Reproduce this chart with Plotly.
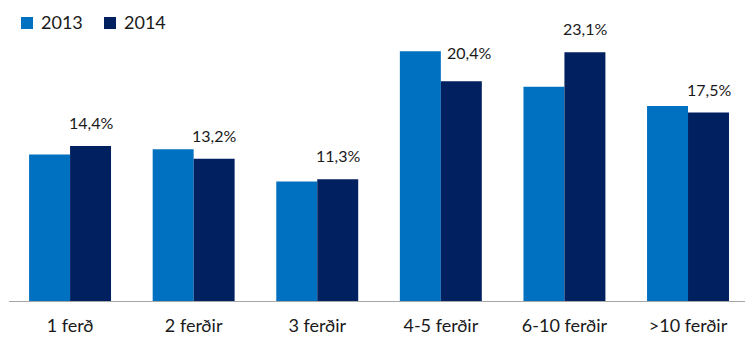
import plotly.graph_objects as go

# Number of trips per respondent, share (%) by year
categories = ["1 ferð", "2 ferðir", "3 ferðir", "4-5 ferðir", "6-10 ferðir", ">10 ferðir"]
share_2013 = [13.6, 14.1, 11.1, 23.2, 19.9, 18.1]
share_2014 = [14.4, 13.2, 11.3, 20.4, 23.1, 17.5]
years = ["2013", "2014"]

FONT = "Lato"
TEXT = "#1a1a1a"
COLORS = ["#0070C0", "#002060"]

W, H = 745, 337
ML, MR, MT, MB = 9, 0, 10, 36
PW, PH = W - ML - MR, H - MT - MB

xs = list(range(len(categories)))

fig = go.Figure()
for name, vals, col in zip(years, [share_2013, share_2014], COLORS):
    fig.add_trace(go.Bar(x=xs, y=vals, name=name, marker=dict(color=col, line=dict(width=0))))

bargap = 0.337
half_bar = (1 - bargap) / 4  # offset of each bar centre from the category centre

def fmt(v):
    return f"{v:.1f}".replace(".", ",") + "%"

# value labels above the 2014 bars; the 4-5 label is nudged clear of the taller 2013 bar
for i, v in enumerate(share_2014):
    dx, dy = (8, 5) if categories[i] == "4-5 ferðir" else (0, 0)
    fig.add_annotation(
        x=i + half_bar, y=v, text=fmt(v), showarrow=False,
        xref="x", yref="y", yanchor="bottom", yshift=12 + dy, xshift=dx,
        font=dict(family=FONT, size=16, color=TEXT),
    )

# legend drawn as swatches + text in pixel positions
def px(x):
    return (x - ML) / PW

def py(y):
    return (H - MB - y) / PH

for (sx, tx), name, col in zip([(21, 39), (104, 122)], years, COLORS):
    fig.add_shape(type="rect", xref="paper", yref="paper",
                  x0=px(sx), x1=px(sx + 12), y0=py(29), y1=py(17),
                  fillcolor=col, line=dict(width=0))
    fig.add_annotation(x=px(tx), y=py(22.5), xref="paper", yref="paper",
                       text=name, showarrow=False, xanchor="left", yanchor="middle",
                       font=dict(family=FONT, size=18, color=TEXT))

fig.update_layout(
    width=W, height=H,
    margin=dict(l=ML, r=MR, t=MT, b=MB, autoexpand=False),
    paper_bgcolor="white", plot_bgcolor="white",
    barmode="group", bargap=bargap, bargroupgap=0,
    font=dict(family=FONT, color=TEXT),
    showlegend=False,
    xaxis=dict(
        range=[-0.494, 5.461], tickmode="array", tickvals=xs, ticktext=categories,
        showgrid=False, zeroline=False, showline=True, linecolor="#a6a6a6", linewidth=1.3,
        ticks="", tickfont=dict(family=FONT, size=18, color=TEXT), ticklabelstandoff=8,
        fixedrange=True,
    ),
    yaxis=dict(
        range=[0, 27.02], visible=False, showgrid=False, zeroline=False, fixedrange=True,
    ),
)

fig.write_html("out.html")
